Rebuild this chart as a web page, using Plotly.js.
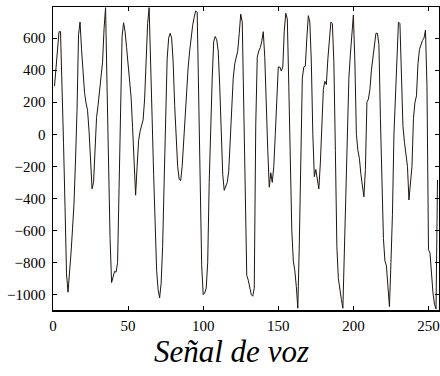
<!DOCTYPE html>
<html>
<head>
<meta charset="utf-8">
<script src="https://cdn.plot.ly/plotly-3.0.1.min.js"></script>
<style>html,body{margin:0;padding:0;background:#fff;}#chart{width:440px;height:376px;}</style>
</head>
<body>
<div id="chart"></div>
<script>
// Voice signal samples (index 1..256)
const signalValues = [
  300, 400, 520, 640, 640, 350, -50, -450, -870, -985,
  -880, -740, -590, -430, -160, 150, 620, 700, 530, 380,
  260, 195, 150, 20, -200, -340, -300, -100, 105, 180,
  270, 370, 450, 660, 790, 290, -200, -650, -925, -880,
  -855, -860, -800, -330, 270, 610, 696, 640, 540, 420,
  310, 230, 40, -200, -380, -200, -40, 20, 60, 90,
  220, 450, 690, 790, 500, 100, -250, -600, -850, -970,
  -1020, -930, -700, -300, 200, 470, 600, 630, 600, 450,
  180, 0, -200, -280, -290, -200, -40, 150, 330, 420,
  520, 620, 680, 730, 770, 760, 200, -400, -820, -1000,
  -990, -960, -800, -300, 100, 350, 580, 610, 590, 520,
  300, 40, -250, -350, -330, -300, -230, -50, 150, 350,
  440, 480, 520, 630, 750, 700, 200, -470, -880, -910,
  -960, -1000, -1010, -960, 60, 480, 520, 540, 580, 640,
  480, 150, -100, -330, -240, -300, -200, 0, 180, 420,
  420, 395, 420, 650, 755, 720, 300, -100, -600, -790,
  -850, -950, -1085, -680, -150, 350, 420, 425, 600, 740,
  700, 450, 0, -264, -220, -285, -340, -180, 100, 280,
  330, 310, 470, 590, 700, 690, 450, -100, -700, -900,
  -980, -1030, -1085, -700, -410, 110, 350, 500, 630, 744,
  450, 0, -100, -150, -250, -320, -390, -220, 200, 220,
  280, 400, 480, 560, 630, 630, 560, 100, -300, -650,
  -790, -820, -950, -1075, -800, -500, 0, 270, 450, 700,
  690, 400, 50, -50, -120, -200, -410, -300, -200, 100,
  200, 240, 440, 530, 560, 585, 600, 650, 300, -720,
  -740, -900, -990, -1060, -1090, -285
];
const sampleIndex = signalValues.map((_, k) => k + 1);
const xTickVals = [0, 50, 100, 150, 200, 250];
const yTickVals = [-1000, -800, -600, -400, -200, 0, 200, 400, 600];
const chartTitle = 'Señal de voz';

const serif = 'Liberation Serif';
const axisCommon = {
  showgrid: false, zeroline: false, showline: true, mirror: 'ticks',
  linecolor: '#000', linewidth: 1.5, ticks: 'inside', ticklen: 4,
  tickcolor: '#000', tickwidth: 1,
  tickfont: {family: serif, size: 15, color: '#000'}
};

const trace = {
  x: sampleIndex, y: signalValues, type: 'scatter', mode: 'lines',
  line: {color: '#1e1612', width: 1}, hoverinfo: 'skip'
};

const layout = {
  width: 440, height: 376,
  margin: {l: 53, r: 1, t: 7, b: 66, pad: 0},
  paper_bgcolor: '#fff', plot_bgcolor: '#fff',
  showlegend: false,
  xaxis: Object.assign({}, axisCommon, {range: [0, 257], tickmode: 'array', tickvals: xTickVals, ticklabelstandoff: 1}),
  yaxis: Object.assign({}, axisCommon, {range: [-1096, 794], tickmode: 'array', tickvals: yTickVals, ticklabelstandoff: 3}),
  annotations: [{
    text: chartTitle, xref: 'paper', yref: 'paper',
    x: 0.4637, y: -0.138, xanchor: 'center', yanchor: 'middle', showarrow: false,
    font: {family: serif, size: 31, color: '#000', style: 'italic'}
  }]
};

Plotly.newPlot('chart', [trace], layout, {staticPlot: true, displayModeBar: false});
</script>
</body>
</html>
